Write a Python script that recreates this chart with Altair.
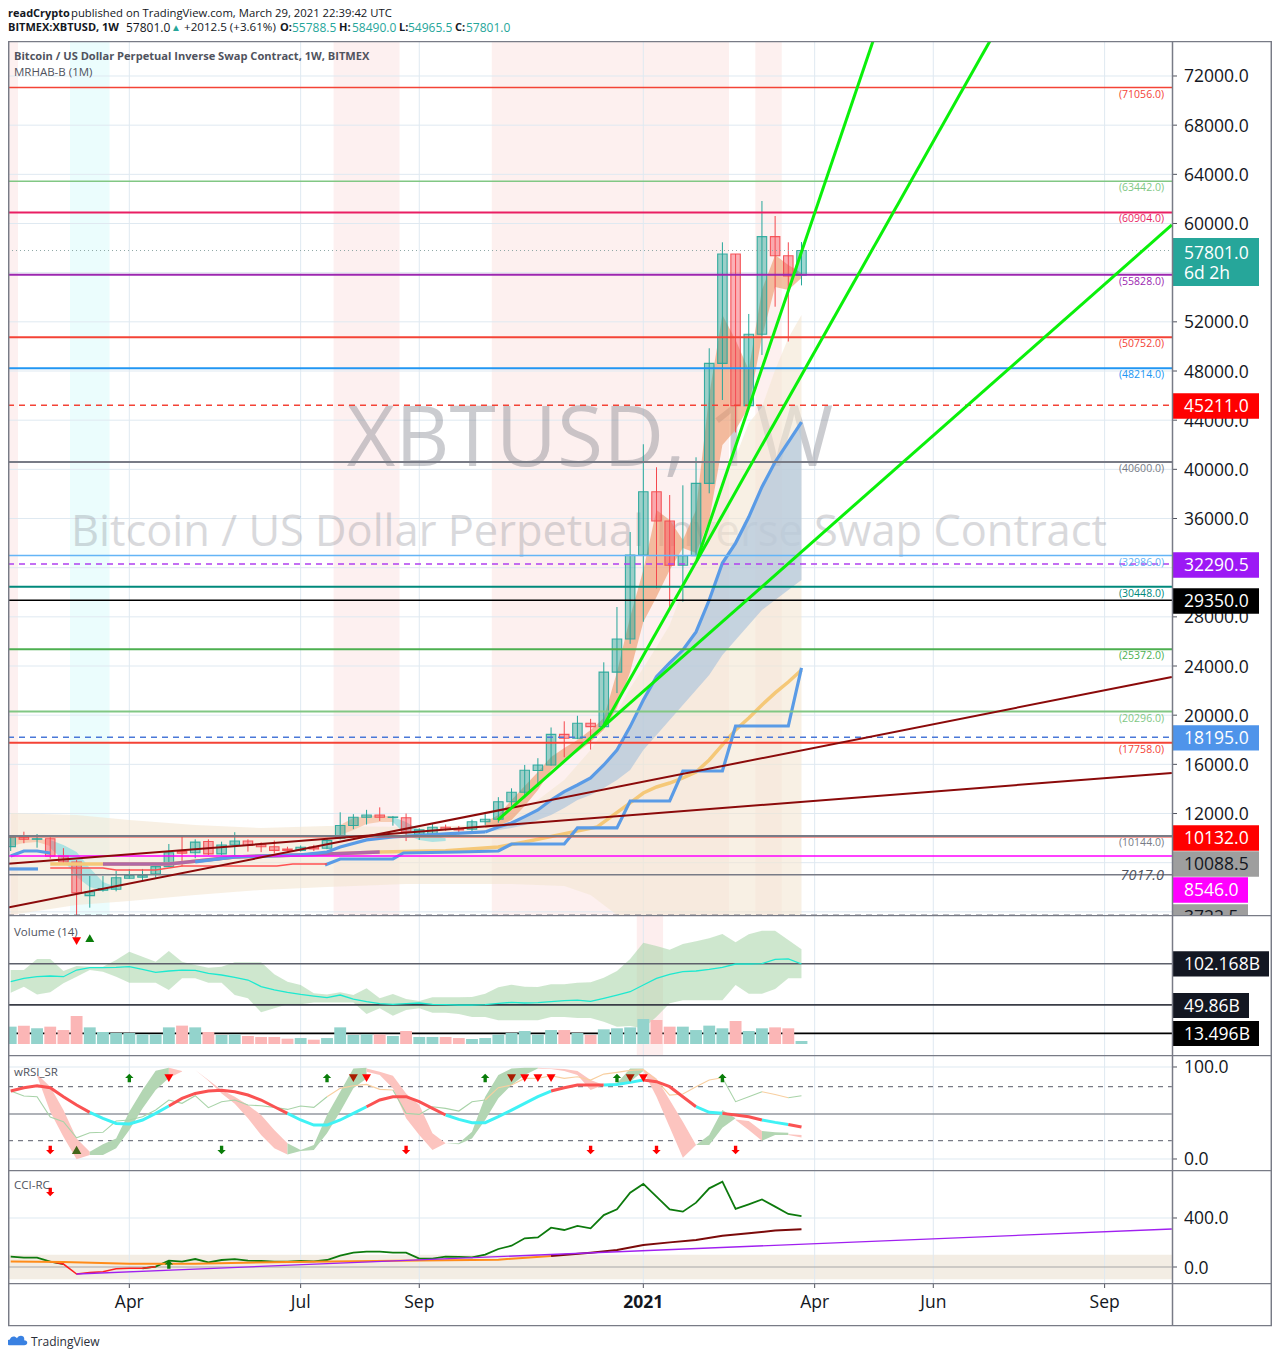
import altair as alt
import pandas as pd

# ---------- candles (weekly, index 0 = 3 Feb 2020) ----------
opens = [9304,10068,9905,9950,8530,8060,5320,5760,5840,6730,6820,7070,7680,8900,8810,9720,8720,9440,9760,9470,9300,9100,9000,9280,9180,10000,11030,11700,11880,11680,11660,10260,10257,10880,10720,10720,11330,11530,12960,13730,15500,15950,18440,18120,19340,19070,23500,26200,33034,38180,35800,32200,32980,38860,48620,57520,45180,50990,58930,57380,55788]
closes = [10068,9905,9950,8530,8060,5540,5640,5900,6780,6950,6950,7680,8810,8770,9670,8720,9440,9760,9400,9300,9000,9000,9250,9120,9800,11030,11700,11880,11700,11720,10520,10670,10880,10720,10660,11330,11530,12960,13730,15520,15950,18440,18120,19340,19070,23500,26200,33034,38180,35800,32200,32980,38860,48620,57520,45180,50990,58930,57380,55730,57801]
highs = [10200,10520,10330,10070,9180,8220,6920,6920,7330,7490,7490,7730,9520,10130,9900,9900,9710,10480,9900,9650,9800,9300,9400,9450,10000,12100,11950,12300,12500,11800,12000,10800,11200,11100,10980,11500,11950,13330,14050,15950,16500,19000,19500,19950,19700,24300,28800,34900,42040,40170,37910,38700,40980,49850,58470,57520,52640,61830,60610,58470,58490]
lows = [8950,9580,9220,8330,7900,3722.5,4340,5640,5670,6700,6510,6780,7680,7680,8360,8620,8620,8620,8900,8860,8750,8950,8900,8950,9100,9900,10730,11100,11400,11010,9760,9850,10150,10600,10300,10450,11070,11250,12640,13250,14200,15900,16580,18050,17200,19070,21800,25800,27600,30320,28560,29230,32980,38050,45640,43000,45180,49300,53230,50400,54965]
volumes = [22.1,23.4,20.0,22.1,17.8,35.7,21.2,15.3,14.0,14.0,12.3,12.3,21.2,23.4,21.2,15.3,11.5,12.3,10.2,8.9,8.9,6.8,7.6,5.5,7.6,21.2,11.5,12.3,12.3,10.2,16.6,8.9,8.9,8.9,7.6,6.4,7.6,11.9,14.0,16.6,11.9,17.8,17.8,14.0,11.5,18.7,20.0,21.2,31.8,30.6,22.1,22.1,17.8,23.4,20.0,29.3,16.6,20.0,21.2,20.0,3.8]

# ---------- overlay bands (price) ----------
tan_i = [0,5,9,14,19,24,30,36,38,40,42,44,45,46,47,48,49,50,51,52,53,54,55,56,57,58,59,60]
tan_top = [12045,11882,11476,11069,10825,10988,10906,11069,11882,13103,14730,17170,18716,20260,22210,23840,25550,27340,30190,33200,36120,39130,41000,43770,45070,48080,50680,52560]
tan_bot = [3744,4560,4890,5380,5780,6030,6270,6270,6270,6190,6100,5380,4560,3744,3744,3744,3744,3744,3744,3744,3744,3744,3744,3744,3744,3744,3744,3744]

rib_i = list(range(36, 61))
rib_top = [11312,11882,13103,14240,15380,16600,17330,17980,18800,19770,23510,27990,31810,36700,35880,34250,36700,46050,52560,50520,48080,54590,57440,56620,55970]
rib_bot = [10825,10988,11476,12615,13920,15540,16360,17010,17820,18800,20590,23510,27580,29620,31810,33600,33200,35880,41980,43200,45070,50770,54830,54590,55570]

small_ribbons = [
    ("#f6c9ae", [0,1,2,3], [10010,10010,9930,9850], [9360,9600,9690,9360]),
    ("#a5e0e0", [3,4,5,6,7,8], [9850,9440,8870,7570,6430,6030], [9200,8220,6840,6030,5700,5860]),
    ("#f6c9ae", [25,26,27,28,29], [11069,11640,11800,11882,11720], [10250,10660,11150,11312,11312]),
    ("#a5e0e0", [29,30,31,32,33], [11720,11312,10660,10250,9990], [11312,10250,9850,9690,9770]),
]

blue_i = list(range(36, 61))
blue_line = [10500,10900,11230,11750,12290,13100,13780,14320,14890,15950,17170,19070,21240,23130,24250,25300,26770,29370,32380,34000,36120,38570,40600,42220,43850]
blue_low = [10500,10660,10825,11070,11476,11880,12450,13100,13510,14080,14730,15540,17170,18390,19610,20830,22050,23270,24900,26120,27340,28560,29370,30190,31000]
blue_early_i = [14,17,22,24,25,27,29,33,36]
blue_early = [8060,8470,8630,8870,9280,9850,10090,10340,10500]
blue_left_i = [0,1,2,3]
blue_left = [8545,8950,8950,8790]

yellow_i = [3,7,12,17,22,28,33,37,39,44.5,47,48,49,50,51,52,53,54,55,56,57,58,59,60]
yellow = [7895,7895,7895,8470,8630,8870,8970,9280,9690,10906,12860,13670,14160,14480,14890,15380,16360,17580,18800,19770,20830,21810,22700,23680]
purple_i = [7,12,17,22,28]
purple = [7895,7895,8470,8630,8870]

step_a_i = [-0.13,2.07]
step_a = [7490,7490]
step_i = [23.85,25,29,29.8,34,37,38,42,43,46,47,50,51,54,55,59,60]
step = [7815,8300,8300,8790,8870,8950,9520,9520,10825,10825,13020,13020,15460,15460,19120,19120,23840]

redthin_i = [3,7,8,11,13,20.2,21.4,24]
redthin = [7570,7570,7410,7410,7730,7730,7895,7895]

# fan and trend lines (index, price pairs)
fans = [([36.97,44.94],[11476,19041]),
        ([44.94,74.3],[19041,74847]),
        ([44.94,88.1],[19041,59879]),
        ([52.07,65.43],[32627,74847])]
trends = [([-0.205,88.1],[7913,15300]),
          ([-0.205,88.1],[4348,23108])]

# ---------- horizontal levels ----------
lv_price = [71056,63442,60904,55828,50752,48214,40600,32986,30448,29350,25372,20296,17758,10100,10165,8546,7017]
lv_color = ["#f44336","#81c784","#e91e63","#9c27b0","#f44336","#2196f3","#787b86","#64b5f6","#00897b","#000000","#4caf50","#81c784","#f44336","#f44336","#787b86","#ff00ff","#787b86"]
lv_width = [1.5,1.5,2,2,2,2,2,1.5,2,1.5,2,2,2,1.3,2,1.5,1.5]
lv_label = ["(71056.0)","(63442.0)","(60904.0)","(55828.0)","(50752.0)","(48214.0)","(40600.0)","(32986.0)","(30448.0)","","(25372.0)","(20296.0)","(17758.0)","","(10144.0)","",""]
dash_price = [45211,32290.5,18195,3722.5]
dash_color = ["#f44336","#b040f0","#4a78d8","#787b86"]

axis_prices = list(range(12000, 76000, 4000))
grid_prices = list(range(4000, 76000, 4000))
month_i = [9,22,31,48,61,70,83]
month_txt = ["Apr","Jul","Sep","2021","Apr","Jun","Sep"]

tag_text = ["45211.0","32290.5","29350.0","18195.0","10132.0","10088.5","8546.0","3722.5"]
tag_at = [45155,32220,29290,18150,10010,7895,5780,3585]
tag_fill = ["#ff0000","#9c19f5","#000000","#4f94ea","#ff0000","#9e9e9e","#ff00ff","#9e9e9e"]
tag_ink = ["#ffffff","#ffffff","#ffffff","#ffffff","#ffffff","#131722","#ffffff","#131722"]
tag_right = [1259,1259,1259,1259,1259,1259,1248,1248]

# ---------- volume MA ----------
vol_top = [94.2,94.2,108.3,108.3,93,99.3,98.5,98.5,107,117.6,111.2,104.9,118.4,104.9,100.6,97.2,98.5,104,104,104,88.7,79.4,75.1,64.5,63.2,65.8,62.4,70.9,58.2,63.7,57.3,54.8,59.4,59.4,59.4,59.8,64.1,72.2,75.6,73,72.6,76,76,78.1,78.5,84.5,93,108.3,129,124.8,120.1,127.4,130.8,134.6,140.1,129.5,139.7,144.3,144.3,132.5,120.6]
vol_bot = [65.4,73,63.2,65.8,77.3,85.7,94.2,92.1,85.7,78.1,78.1,78.1,68.8,83.6,83.6,78.1,78.1,62.4,58.2,40.3,45.4,50.5,50.5,53,53,53,53,38.2,45.4,36.1,43.3,45.4,39.9,39.9,38.2,34.4,34.4,30.1,30.1,30.1,30.1,34.4,34.4,33.1,33.1,28.4,22,22.9,19.9,34.8,51.8,55.6,55.6,55.6,55.6,75.1,64.1,64.1,70,83.6,83.6]
vol_ma = [79.4,83.6,85.7,86.6,85.7,94.2,97.2,97.2,97.6,98.5,95.1,91.3,93,94.2,93.8,90,87.9,84.9,81.5,73,68.8,65.8,63.2,61.1,59,62.4,57.3,53.9,51.4,50.5,51.4,52.2,50.5,50.1,49.7,49.7,50.1,51.8,53,52.2,52.6,53.9,55.2,56,54.3,58.2,62.4,66.6,75.1,83.6,88.7,92.1,93,95.1,97.6,101.9,101.9,102.3,107.8,108.3,101.9]
vol_levels = [102.168,49.86,13.496]
vol_lcolor = ["#5d606b","#3a3d47","#000000"]
vol_tag = ["102.168B","49.86B","13.496B"]
vol_tag_at = [102,49,13.4]
vol_tag_fill = ["#131722","#131722","#000000"]
vol_tag_right = [1269,1249,1259]

# ---------- wRSI ----------
rsi_ma = [73.9,77.5,79.7,77.5,67.7,58.7,50.7,44.2,38.7,38,42.4,49.6,57.6,65.9,71.3,73.9,74.6,73.1,69.5,64.1,56.8,49.6,42.4,36.9,36.9,42.4,49.6,56.8,64.1,67.7,67.7,62.3,55,47.8,43.1,39.5,39.5,46,53.2,60.5,67.7,73.9,77.5,80.4,80.4,80.4,81.1,83.3,85.8,84,78.6,67.7,56.8,50.7,49.6,47.8,46,42.4,39.8,37.6,34.7]
rsi_runs = [(0,6,"r"),(6,12,"c"),(12,21,"r"),(21,27,"c"),(27,33,"r"),(33,41,"c"),(41,45,"r"),(45,48,"c"),(48,52,"r"),(52,54,"c"),(54,57,"r"),(57,59,"c"),(59,60,"r")]
rsi_thin = [73.9,68.4,67.7,45.6,40.5,23.1,28.6,29,41.3,42.4,46,53.2,64.1,60.5,68.8,55.8,62.3,64.1,58.7,57.9,56.1,53.9,57.6,56.1,67.7,76.8,79.7,81.1,75.7,75,49.6,48.5,56.8,55,52.1,62.3,64.1,77.5,80.4,87.6,87.6,90.5,87.6,89.4,85.8,92.3,94.2,96.3,97.1,85.8,69.5,70.6,78.6,85.8,88.4,62.3,67.7,73.1,70.2,66.6,68.8]
rsi_thin_runs = [(0,24,"#a8d3a8"),(24,29,"#f8cfa0"),(29,36,"#a8d3a8"),(36,54,"#f8cfa0"),(54,57,"#a8d3a8"),(57,59,"#f8cfa0"),(59,60,"#a8d3a8")]
rsi_ribbons = [
    ("r",[2,3,4,5,6],[92,78.6,53.2,22.4,7.9],[90.5,51.4,24.2,-0.4,4.3]),
    ("g",[6,7,8,9,10,11,12],[7.9,15.9,22.4,51.4,75,96,99.2],[4.3,4.3,11.6,31.5,55,75,88]),
    ("r",[12,13],[99.2,95.6],[88,95]),
    ("r",[14,15,16,17,18,19,20,21],[96.7,85.8,75,67.7,58.7,47.8,31.5,17],[96.7,85,71.3,60,44.2,26,11.6,5]),
    ("g",[21,22,23,24,25,26,27],[17,9.7,15.2,47.8,73.1,98.5,99.2],[5,8.7,9.7,27.9,51.4,76.8,87.6]),
    ("r",[27,28,29,30,31,32,33],[98.5,94.9,90.5,71.3,58.7,27.9,17],[94.9,91.3,76.8,44.2,26,9.7,17]),
    ("g",[33,34,35,36,37,38,39,40],[17,17,29.7,67.7,91.3,98.5,99.2,99.2],[17,15.9,22.4,42.4,65.9,80.4,91.3,98.5]),
    ("r",[40,41,42,43,44,45],[99.2,98.5,97.8,95.6,85.8,80.4],[98.5,97.8,95.6,91.3,75,80.4]),
    ("g",[45,46,47,48],[80.4,82.2,98.5,98.5],[80.4,80.4,84,95.6]),
    ("r",[48,49,50,51,52],[97.8,87.6,64.1,40.5,15.2],[95.6,67.7,34.4,1.4,15.2]),
    ("g",[52,53,54,55],[15.2,26,53.2,44.2],[15.2,15.2,34,44.2]),
    ("r",[55,56,57],[43,41.3,30.4],[42.4,31.5,19.9]),
    ("g",[57,58,59],[30.4,29,28.6],[19.9,26,26]),
    ("r",[59,60],[26.8,26],[26,23.5]),
]
rsi_levels_dash = [78.6,20]
rsi_mid = 49
rsi_up_arrow = [9,24,36,46,54]
rsi_tri_down = [12,27,39,40,41,48]
rsi_tri_dark = [26,38,47]
rsi_top_mark = 88
rsi_low_mark = 9.8
rsi_red_down_arrow = [3,30,44,49,55]
rsi_green_down_arrow = [16]
rsi_tri_up = [5]

# ---------- CCI ----------
cci = [84,76,76,44,24,-57,-44,-38,-14,-11,-11,3,52,44,65,38,57,65,52,49,44,44,49,46,57,93,117,125,125,117,117,68,68,84,82,79,101,147,174,234,242,321,302,335,316,424,471,607,678,574,471,452,525,642,697,474,512,552,493,433,416]
cci_orange_i = [0,4,9,14,21,31,37,41]
cci_orange = [44,41,27,27,41,54,60,90]
cci_dark_i = [41,44,46,48,50,52,54,56,58,60]
cci_dark = [90,117,139,180,201,220,256,275,297,308]
cci_purple_i = [5,88.1]
cci_purple = [-57,310]

# ---------- helpers ----------
W = 1264
PLOT_R = 1164
LABEL_X = PLOT_R + 12
FONT = "Open Sans"
xs = alt.Scale(domain=[-0.205, 95.70], nice=False, zero=False)
X = alt.X("i:Q", scale=xs, axis=None)
X2 = alt.X2("i2:Q")
ONE = pd.DataFrame({"a": [0]})

def yscale(lo, hi):
    return alt.Scale(domain=[lo, hi], nice=False, zero=False)

def Y(s, f="v"):
    return alt.Y(f"{f}:Q", scale=s, axis=None)

def line(i, v, s, color, width, dash=None):
    kw = dict(color=color, strokeWidth=width, clip=True)
    if dash:
        kw["strokeDash"] = dash
    return alt.Chart(pd.DataFrame({"i": i, "v": v})).mark_line(**kw).encode(x=X, y=Y(s))

def area(i, t, b, s, color, op=1.0):
    return alt.Chart(pd.DataFrame({"i": i, "v": t, "b": b})).mark_area(
        color=color, opacity=op, clip=True, orient="vertical", strokeWidth=0
    ).encode(x=X, y=Y(s), y2=alt.Y2("b:Q"))

def text(px, py, top, s, size=12, color="#131722", weight="normal", align="left", style="normal", op=1.0):
    return alt.Chart(ONE).mark_text(
        text=s, fontSize=size, color=color, fontWeight=weight, align=align, baseline="middle",
        font=FONT, fontStyle=style, opacity=op, clip=True, dy=size * 0.07
    ).encode(x=alt.value(px - 8), y=alt.value(py - top))

def hline(py, top, color="#787b86", width=1.5, x0=0, x1=W):
    return alt.Chart(ONE).mark_rule(color=color, strokeWidth=width, clip=True).encode(
        x=alt.value(x0), x2=alt.value(x1), y=alt.value(py - top))

def vline(px, top, h, color="#787b86", width=1.5):
    return alt.Chart(ONE).mark_rule(color=color, strokeWidth=width, clip=True).encode(
        x=alt.value(px - 8), y=alt.value(0), y2=alt.value(h))

def vgrid(h):
    df = pd.DataFrame({"i": month_i})
    return alt.Chart(df).mark_rule(color="#dfe9f1", strokeWidth=1, clip=True).encode(
        x=X, y=alt.value(0), y2=alt.value(h))

def hgrid(vals, s):
    df = pd.DataFrame({"v": vals})
    return alt.Chart(df).mark_rule(color="#dfe9f1", strokeWidth=1, clip=True).encode(
        y=Y(s), x=alt.value(0), x2=alt.value(PLOT_R))

def ticks(vals, s, color="#50535e"):
    df = pd.DataFrame({"v": vals})
    return alt.Chart(df).mark_rule(color=color, strokeWidth=1, clip=True).encode(
        y=Y(s), x=alt.value(PLOT_R), x2=alt.value(PLOT_R + 5))

def axis_labels(vals, s, suffix=".0", size=17.5):
    df = pd.DataFrame({"v": vals, "t": [f"{v}{suffix}" for v in vals]})
    return alt.Chart(df).mark_text(align="left", baseline="middle", fontSize=size, font=FONT, dy=1.5,
                                   color="#131722", clip=True).encode(
        x=alt.value(LABEL_X), y=Y(s), text="t:N")

def vband(i0, i1, h, color):
    return alt.Chart(pd.DataFrame({"i": [i0], "i2": [i1]})).mark_rect(color=color, clip=True).encode(
        x=X, x2=X2, y=alt.value(0), y2=alt.value(h))

def frame(h, top):
    return [hline(top + 0.5, top, "#787b86", 1.5),
            vline(8.7, top, h, "#787b86", 1.5),
            vline(1172.5, top, h, "#787b86", 1.5),
            vline(1271.3, top, h, "#787b86", 1.5)]

DOWN = "M-0.4,-1 L0.4,-1 L0.4,0 L1,0 L0,1 L-1,0 L-0.4,0 Z"
UP = "M-0.4,1 L0.4,1 L0.4,0 L1,0 L0,-1 L-1,0 L-0.4,0 Z"

def glyphs(idx, val, s, shape, color, size=45):
    df = pd.DataFrame({"i": idx, "v": [val] * len(idx)})
    return alt.Chart(df).mark_point(shape=shape, filled=True, color=color, opacity=1, size=size, clip=True).encode(
        x=X, y=Y(s))

# ---------- header ----------
H0 = 8
GREEN_TXT = "#26a69a"
R1, R2 = 13.5, 27
header = [
    text(8, R1, H0, "readCrypto", 11, "#131722", "bold"),
    text(71, R1, H0, "published on TradingView.com, March 29, 2021 22:39:42 UTC", 11.3, "#131722"),
    text(8, R2, H0, "BITMEX:XBTUSD, 1W", 11, "#131722", "bold"),
    text(126, R2, H0, "57801.0", 12, "#131722"),
    text(171, R2, H0, "▲", 10, GREEN_TXT),
    text(184, R2, H0, "+2012.5 (+3.61%)", 11.6, "#131722"),
    text(280, R2, H0, "O:", 11, "#131722", "bold"),
    text(292, R2, H0, "55788.5", 12, GREEN_TXT),
    text(339, R2, H0, "H:", 11, "#131722", "bold"),
    text(352, R2, H0, "58490.0", 12, GREEN_TXT),
    text(399, R2, H0, "L:", 11, "#131722", "bold"),
    text(408, R2, H0, "54965.5", 12, GREEN_TXT),
    text(455, R2, H0, "C:", 11, "#131722", "bold"),
    text(466, R2, H0, "57801.0", 12, GREEN_TXT),
]

# ---------- main panel ----------
T1, H1 = 41, 874
ys = yscale(3744, 74847)
main = [
    vband(-0.205, 0.55, H1, "#fdf0f0"),
    vband(4.5, 7.5, H1, "#ebfdfd"),
    vband(24.5, 29.5, H1, "#fdf0f0"),
    vband(36.5, 54.5, H1, "#fdf0ef"),
    vband(56.5, 58.5, H1, "#fdf0ef"),
    hgrid(grid_prices, ys),
    vgrid(H1),
    text(590, 435, T1, "XBTUSD, 1W", 84, "#787b86", op=0.38, align="center"),
    text(589, 530, T1, "Bitcoin / US Dollar Perpetual Inverse Swap Contract", 43.4, "#787b86", op=0.28, align="center"),
    area(tan_i, tan_top, tan_bot, ys, "#f3e6d2", 0.6),
    area(rib_i, rib_top, rib_bot, ys, "#ee9a6a", 0.62),
]
for c, ii, t, b in small_ribbons:
    main.append(area(ii, t, b, ys, c, 0.9))
main.append(area(blue_i, blue_line, blue_low, ys, "#a3bfdc", 0.6))

# candles
cdf = pd.DataFrame({"i0": list(range(61)), "o": opens, "c": closes, "h": highs, "l": lows})
cdf["up"] = cdf.c >= cdf.o
cdf["top"] = cdf[["o", "c"]].max(axis=1)
cdf["bot"] = cdf[["o", "c"]].min(axis=1)
cdf["i"] = cdf.i0 - 0.36
cdf["i2"] = cdf.i0 + 0.36
cdf["stroke"] = cdf.up.map({True: "#26a69a", False: "#f4484e"})
cdf["fill"] = cdf.up.map({True: "#26a69a", False: "#f7525f"})
main.append(alt.Chart(cdf).mark_rule(strokeWidth=1, clip=True).encode(
    x=alt.X("i0:Q", scale=xs, axis=None), y=Y(ys, "l"), y2=alt.Y2("h:Q"), color=alt.Color("stroke:N", scale=None)))
main.append(alt.Chart(cdf).mark_rect(clip=True, strokeWidth=1.1, fillOpacity=0.45, strokeOpacity=0.9).encode(
    x=X, x2=X2, y=Y(ys, "bot"), y2=alt.Y2("top:Q"),
    fill=alt.Fill("fill:N", scale=None), stroke=alt.Stroke("stroke:N", scale=None)))

main += [
    line(yellow_i, yellow, ys, "#f5c878", 3.5),
    line(purple_i, purple, ys, "#b06aa5", 3.5),
    line(blue_left_i, blue_left, ys, "#5a9be6", 3.2),
    line(blue_early_i, blue_early, ys, "#5a9be6", 3.2),
    line(blue_i, blue_line, ys, "#5a9be6", 3.2),
    line(step_a_i, step_a, ys, "#5a9be6", 3.2),
    line(step_i, step, ys, "#5a9be6", 3.2),
    line(redthin_i, redthin, ys, "#ff5252", 1.5),
]

lv = pd.DataFrame({"v": lv_price, "c": lv_color, "w": lv_width, "t": lv_label})
main.append(alt.Chart(lv).mark_rule(clip=True).encode(
    y=Y(ys), x=alt.value(0), x2=alt.value(PLOT_R),
    color=alt.Color("c:N", scale=None), strokeWidth=alt.StrokeWidth("w:Q", scale=None)))
dl = pd.DataFrame({"v": dash_price, "c": dash_color})
main.append(alt.Chart(dl).mark_rule(clip=True, strokeDash=[6, 5], strokeWidth=1.5).encode(
    y=Y(ys), x=alt.value(0), x2=alt.value(PLOT_R), color=alt.Color("c:N", scale=None)))
main.append(alt.Chart(pd.DataFrame({"v": [57801]})).mark_rule(
    clip=True, strokeDash=[1, 3], strokeWidth=1, color="#8fa8a6").encode(
    y=Y(ys), x=alt.value(0), x2=alt.value(PLOT_R)))

for ii, vv in trends:
    main.append(line(ii, vv, ys, "#8b0a0a", 2))
for ii, vv in fans:
    main.append(line(ii, vv, ys, "#0af00a", 3))

# level captions
lab = lv[lv.t != ""].copy()
main.append(alt.Chart(lab).mark_text(align="right", baseline="top", fontSize=10.5, font=FONT, clip=True,
                                     dy=2).encode(
    x=alt.value(1164 - 8), y=Y(ys), text="t:N", color=alt.Color("c:N", scale=None)))
main.append(alt.Chart(pd.DataFrame({"v": [7017], "t": ["7017.0"]})).mark_text(
    align="right", baseline="middle", fontSize=14.5, font=FONT, fontStyle="italic", color="#50535e", clip=True, dy=1).encode(
    x=alt.value(1164 - 8), y=Y(ys), text="t:N"))

main += [
    text(14, 56, T1, "Bitcoin / US Dollar Perpetual Inverse Swap Contract, 1W, BITMEX", 11.1, "#50535e", "bold"),
    text(14, 72, T1, "MRHAB-B (1M)", 11.5, "#50535e"),
]

# price axis
main += [ticks(axis_prices, ys), axis_labels(axis_prices, ys)]
tdf = pd.DataFrame({"t": tag_text, "v": tag_at, "fill": tag_fill, "ink": tag_ink, "r": tag_right})
tdf["y0"] = tdf.v - 1030
tdf["y1"] = tdf.v + 1030
for _, row in tdf.iterrows():
    main.append(alt.Chart(pd.DataFrame([row])).mark_rect(color=row["fill"], clip=True).encode(
        x=alt.value(PLOT_R), x2=alt.value(row["r"] - 8), y=Y(ys, "y0"), y2=alt.Y2("y1:Q")))
main.append(alt.Chart(tdf).mark_text(align="left", baseline="middle", fontSize=17.5, font=FONT, fontWeight=500, clip=True, dy=1.5).encode(
    x=alt.value(LABEL_X), y=Y(ys), text="t:N", color=alt.Color("ink:N", scale=None)))
main.append(alt.Chart(pd.DataFrame({"v": [58820], "b": [54920]})).mark_rect(color="#26a69a", clip=True).encode(
    x=alt.value(PLOT_R), x2=alt.value(1259 - 8), y=Y(ys), y2=alt.Y2("b:Q")))
main.append(alt.Chart(pd.DataFrame({"v": [57680, 55975], "t": ["57801.0", "6d 2h"]})).mark_text(
    align="left", baseline="middle", fontSize=17.5, font=FONT, fontWeight=500, color="#ffffff", clip=True, dy=1.5).encode(
    x=alt.value(LABEL_X), y=Y(ys), text="t:N"))
main += frame(H1, T1)

# ---------- volume panel ----------
T2, H2 = 915, 140
yv = yscale(-14, 164.3)
vdf = pd.DataFrame({"i0": list(range(61)), "v": volumes, "z": [0.0] * 61, "up": cdf.up})
vdf["i"] = vdf.i0 - 0.45
vdf["i2"] = vdf.i0 + 0.45
vdf["c"] = vdf.up.map({True: "#93d3cc", False: "#fbb6b6"})
allv = list(range(61))
vol = [
    vband(47.5, 49.5, H2, "#fdeeee"),
    vgrid(H2),
    area(allv, vol_top, vol_bot, yv, "#a5d3a5", 0.55),
]
vol.append(alt.Chart(pd.DataFrame({"v": vol_levels, "c": vol_lcolor})).mark_rule(clip=True, strokeWidth=1.6).encode(
    y=Y(yv), x=alt.value(0), x2=alt.value(PLOT_R), color=alt.Color("c:N", scale=None)))
vol.append(alt.Chart(vdf).mark_rect(clip=True).encode(
    x=X, x2=X2, y=Y(yv), y2=alt.Y2("z:Q"), fill=alt.Fill("c:N", scale=None)))
vol += [
    line(allv, vol_ma, yv, "#1de9d0", 1.3),
    glyphs([5], 131, yv, "triangle-down", "#ff0000", 80),
    glyphs([6], 135, yv, "triangle-up", "#0a7d0a", 80),
    text(14, 932, T2, "Volume (14)", 11.5, "#50535e"),
    ticks(vol_levels, yv),
]
vt = pd.DataFrame({"t": vol_tag, "v": vol_tag_at, "f": vol_tag_fill, "r": vol_tag_right})
vt["y0"] = vt.v - 16
vt["y1"] = vt.v + 16
for _, row in vt.iterrows():
    vol.append(alt.Chart(pd.DataFrame([row])).mark_rect(color=row["f"], clip=True).encode(
        x=alt.value(PLOT_R), x2=alt.value(row["r"] - 8), y=Y(yv, "y0"), y2=alt.Y2("y1:Q")))
vol.append(alt.Chart(vt).mark_text(align="left", baseline="middle", fontSize=17.5, font=FONT, fontWeight=500, color="#ffffff", clip=True, dy=1.5).encode(
    x=alt.value(LABEL_X), y=Y(yv), text="t:N"))
vol += frame(H2, T2)

# ---------- wRSI panel ----------
T3, H3 = 1055, 115
yr = yscale(-11.96, 113.04)
rsi = [vgrid(H3), hgrid([100, 0], yr)]
rsi.append(line([-0.205, 88.1], [rsi_mid, rsi_mid], yr, "#9598a1", 1.5))
for lvl in rsi_levels_dash:
    rsi.append(line([-0.205, 88.1], [lvl, lvl], yr, "#787b86", 1.2, [5, 5]))
for k, ii, t, b in rsi_ribbons:
    rsi.append(area(ii, t, b, yr, {"r": "#fcc4bf", "g": "#b3d6b3"}[k], 1))
for a, b, c in rsi_thin_runs:
    rsi.append(line(list(range(a, b + 1)), rsi_thin[a:b + 1], yr, c, 1.1))
for a, b, c in rsi_runs:
    rsi.append(line(list(range(a, b + 1)), rsi_ma[a:b + 1], yr, {"r": "#fa5252", "c": "#3ff2f5"}[c], 3))
rsi += [
    glyphs(rsi_up_arrow, rsi_top_mark, yr, UP, "#0a7d0a", 70),
    glyphs(rsi_tri_down, rsi_top_mark, yr, "triangle-down", "#ff0000", 80),
    glyphs(rsi_tri_dark, rsi_top_mark, yr, "triangle-down", "#a81c00", 80),
    glyphs(rsi_red_down_arrow, rsi_low_mark, yr, DOWN, "#ff0000", 70),
    glyphs(rsi_green_down_arrow, rsi_low_mark, yr, DOWN, "#0a7d0a", 70),
    glyphs(rsi_tri_up, rsi_low_mark, yr, "triangle-up", "#44661a", 90),
    text(14, 1072, T3, "wRSI_SR", 11.5, "#50535e"),
    ticks([100, 0], yr),
    axis_labels([100, 0], yr),
]
rsi += frame(H3, T3)

# ---------- CCI panel ----------
T4, H4 = 1170, 113
yc = yscale(-130.6, 791.8)
segs_green = [(0, 4), (10, 60)]
segs_red = [(3, 11)]
cci_lines = []
for a, b in segs_green:
    cci_lines.append(line(list(range(a, b + 1)), cci[a:b + 1], yc, "#0d7a0d", 1.8))
for a, b in segs_red:
    cci_lines.append(line(list(range(a, b + 1)), cci[a:b + 1], yc, "#ff2020", 1.5))
cci_p = [
    area([-0.205, 88.1], [100, 100], [-100, -100], yc, "#f3ede4", 1),
    vgrid(H4),
    hgrid([400], yc),
    line([-0.205, 88.1], [0, 0], yc, "#a8a8a8", 1.2),
] + cci_lines + [
    line(cci_orange_i, cci_orange, yc, "#ff8c1a", 2),
    line(cci_dark_i, cci_dark, yc, "#7b0a0a", 2),
    line(cci_purple_i, cci_purple, yc, "#a020f0", 1.3),
    glyphs([3], 612, yc, DOWN, "#ff0000", 70),
    glyphs([12], 20, yc, UP, "#0a7d0a", 70),
    text(14, 1185, T4, "CCI-RC", 11.5, "#50535e"),
    ticks([400, 0], yc),
    axis_labels([400, 0], yc),
]
cci_p += frame(H4, T4)

# ---------- time axis ----------
T5, H5 = 1283, 42
mdf = pd.DataFrame({"i": month_i, "t": month_txt})
time_p = [
    alt.Chart(mdf).mark_rule(color="#50535e", strokeWidth=1, clip=True).encode(x=X, y=alt.value(0), y2=alt.value(5)),
    alt.Chart(mdf[mdf.t != "2021"]).mark_text(align="center", baseline="middle", fontSize=17.5, font=FONT, color="#131722", clip=True).encode(
        x=X, y=alt.value(20), text="t:N"),
    alt.Chart(mdf[mdf.t == "2021"]).mark_text(align="center", baseline="middle", fontSize=17.5, font=FONT, fontWeight="bold", color="#131722", clip=True).encode(
        x=X, y=alt.value(20), text="t:N"),
] + frame(H5, T5)

# ---------- footer ----------
T6, H6 = 1325, 25
LOGO = "M-1,0.6 C-1.6,0.6 -1.6,-0.2 -1,-0.2 C-0.9,-0.7 -0.3,-0.8 0,-0.4 C0.4,-1 1.2,-0.7 1,-0.1 C1.6,-0.1 1.6,0.6 1,0.6 Z"
footer = [
    hline(1325.5, T6, "#787b86", 1.5),
    alt.Chart(ONE).mark_point(shape=LOGO, filled=True, color="#2e7ae0", opacity=0.95, size=200, clip=True).encode(
        x=alt.value(17 - 8), y=alt.value(1341 - T6)),
    text(31, 1341, T6, "TradingView", 12, "#2a2e39"),
]

def panel(layers, h):
    return alt.layer(*layers).properties(width=W, height=h)

chart = alt.vconcat(
    panel(header, 33),
    panel(main, H1),
    panel(vol, H2),
    panel(rsi, H3),
    panel(cci_p, H4),
    panel(time_p, H5),
    panel(footer, H6),
    spacing=0,
).properties(padding=0, background="#ffffff").configure_view(stroke=None)

chart.save("out.html", embed_options={"renderer": "svg", "actions": False})
